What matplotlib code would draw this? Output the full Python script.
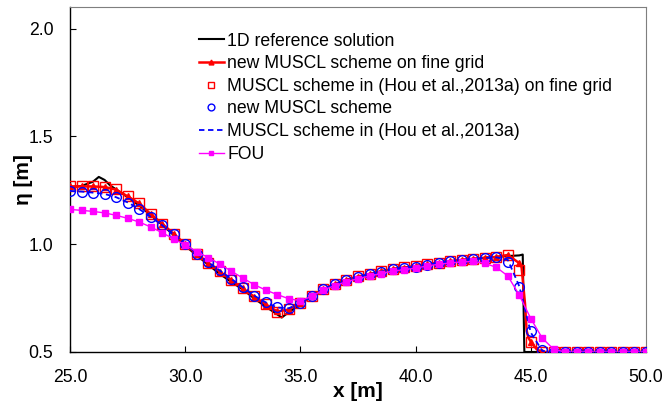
import matplotlib
matplotlib.use("Agg")
import matplotlib.pyplot as plt
import numpy as np

plt.rcParams['font.family'] = ['Liberation Sans', 'DejaVu Sans']

# grid positions (every 0.5 m)
x_grid = [25.0, 25.5, 26.0, 26.5, 27.0, 27.5, 28.0, 28.5, 29.0, 29.5,
          30.0, 30.5, 31.0, 31.5, 32.0, 32.5, 33.0, 33.5, 34.0, 34.5,
          35.0, 35.5, 36.0, 36.5, 37.0, 37.5, 38.0, 38.5, 39.0, 39.5,
          40.0, 40.5, 41.0, 41.5, 42.0, 42.5, 43.0, 43.5, 44.0, 44.5,
          45.0, 45.5, 46.0, 46.5, 47.0, 47.5, 48.0, 48.5, 49.0, 49.5, 50.0]

# 1D reference solution
ref_x = [25.0, 25.5, 26.0, 26.25, 26.5, 26.75, 27.0, 27.5, 28.0, 28.5, 29.0,
         29.5, 30.0, 30.5, 31.0, 31.5, 32.0, 32.5, 33.0, 33.5, 34.0, 34.19,
         34.5, 35.0, 35.5, 36.0, 36.5, 37.0, 37.5, 38.0, 38.5, 39.0, 39.5,
         40.0, 40.5, 41.0, 41.5, 42.0, 42.5, 43.0, 43.5, 44.0, 44.5, 44.65,
         44.72, 50.0]
ref_eta = [1.264, 1.270, 1.290, 1.312, 1.298, 1.272, 1.254, 1.218, 1.180, 1.135,
           1.090, 1.042, 0.993, 0.948, 0.905, 0.862, 0.825, 0.790, 0.748, 0.710,
           0.674, 0.660, 0.685, 0.722, 0.758, 0.790, 0.814, 0.834, 0.849, 0.862,
           0.874, 0.885, 0.892, 0.899, 0.906, 0.914, 0.921, 0.927, 0.932, 0.937,
           0.941, 0.945, 0.948, 0.952, 0.500, 0.500]

# new MUSCL scheme on fine grid (line with extra points near the shock)
newfine_x = [25.0, 25.5, 26.0, 26.5, 27.0, 27.5, 28.0, 28.5, 29.0, 29.5,
             30.0, 30.5, 31.0, 31.5, 32.0, 32.5, 33.0, 33.5, 34.0, 34.5,
             35.0, 35.5, 36.0, 36.5, 37.0, 37.5, 38.0, 38.5, 39.0, 39.5,
             40.0, 40.5, 41.0, 41.5, 42.0, 42.5, 43.0, 43.5, 44.0, 44.5,
             44.6, 44.75, 44.82, 44.9, 45.0, 45.26, 45.5, 46.0, 46.5, 47.0,
             47.5, 48.0, 48.5, 49.0, 49.5, 50.0]
newfine_eta = [1.268, 1.268, 1.268, 1.265, 1.253, 1.222, 1.189, 1.140, 1.095, 1.048,
               1.000, 0.954, 0.913, 0.873, 0.834, 0.795, 0.756, 0.720, 0.688, 0.697,
               0.726, 0.760, 0.791, 0.815, 0.835, 0.850, 0.862, 0.874, 0.885, 0.891,
               0.897, 0.906, 0.914, 0.921, 0.927, 0.932, 0.937, 0.941, 0.950, 0.912,
               0.893, 0.722, 0.598, 0.565, 0.548, 0.512, 0.500, 0.500, 0.500, 0.500,
               0.500, 0.500, 0.500, 0.500, 0.500, 0.500]
newfine_marks = [i for i, v in enumerate(newfine_x) if abs(v * 2 - round(v * 2)) < 1e-9]

# MUSCL scheme in (Hou et al.,2013a) on fine grid
houfine_eta = [1.269, 1.269, 1.269, 1.266, 1.254, 1.223, 1.190, 1.140, 1.095, 1.048,
               1.001, 0.955, 0.914, 0.874, 0.835, 0.797, 0.758, 0.722, 0.685, 0.698,
               0.727, 0.761, 0.793, 0.817, 0.836, 0.851, 0.863, 0.875, 0.886, 0.892,
               0.898, 0.907, 0.915, 0.922, 0.928, 0.933, 0.938, 0.942, 0.950, 0.880,
               0.545, 0.500, 0.500, 0.500, 0.500, 0.500, 0.500, 0.500, 0.500, 0.500, 0.500]

# new MUSCL scheme
new_eta = [1.246, 1.243, 1.238, 1.232, 1.217, 1.193, 1.162, 1.126, 1.087, 1.045,
           1.002, 0.956, 0.916, 0.878, 0.839, 0.802, 0.761, 0.730, 0.707, 0.702,
           0.727, 0.761, 0.792, 0.814, 0.834, 0.849, 0.861, 0.873, 0.884, 0.890,
           0.896, 0.905, 0.913, 0.920, 0.926, 0.931, 0.936, 0.940, 0.916, 0.800,
           0.598, 0.507, 0.500, 0.500, 0.500, 0.500, 0.500, 0.500, 0.500, 0.500, 0.500]

# MUSCL scheme in (Hou et al.,2013a)
hou_eta = [1.247, 1.244, 1.239, 1.233, 1.218, 1.194, 1.163, 1.127, 1.088, 1.045,
           1.002, 0.956, 0.916, 0.878, 0.839, 0.801, 0.761, 0.730, 0.706, 0.703,
           0.727, 0.761, 0.792, 0.814, 0.834, 0.849, 0.861, 0.873, 0.884, 0.890,
           0.896, 0.905, 0.913, 0.920, 0.926, 0.931, 0.936, 0.939, 0.928, 0.805,
           0.590, 0.505, 0.500, 0.500, 0.500, 0.500, 0.500, 0.500, 0.500, 0.500, 0.500]

# FOU
fou_eta = [1.161, 1.157, 1.152, 1.145, 1.134, 1.120, 1.103, 1.080, 1.053, 1.025,
           0.997, 0.965, 0.938, 0.908, 0.875, 0.843, 0.812, 0.787, 0.766, 0.747,
           0.738, 0.758, 0.788, 0.808, 0.826, 0.840, 0.852, 0.864, 0.875, 0.882,
           0.889, 0.899, 0.907, 0.913, 0.918, 0.920, 0.911, 0.893, 0.853, 0.764,
           0.655, 0.564, 0.512, 0.500, 0.500, 0.500, 0.500, 0.500, 0.500, 0.500, 0.500]

labels = ["1D reference solution",
          "new MUSCL scheme on fine grid",
          "MUSCL scheme in (Hou et al.,2013a) on fine grid",
          "new MUSCL scheme",
          "MUSCL scheme in (Hou et al.,2013a)",
          "FOU"]
x_ticks = [25.0, 30.0, 35.0, 40.0, 45.0, 50.0]
y_ticks = [0.5, 1.0, 1.5, 2.0]

FS = 12.7

fig = plt.figure(figsize=(6.64, 4.03), dpi=100)
ax = fig.add_axes([70 / 664, 1 - 352 / 403, 576 / 664, 345 / 403])

ax.plot(ref_x, ref_eta, color='black', lw=1.5, label=labels[0], zorder=2)
ax.plot(newfine_x, newfine_eta, color='#ff0000', lw=1.8, marker='^', ms=5,
        markevery=newfine_marks, label=labels[1], zorder=3)
ax.plot(x_grid, houfine_eta, ls='none', marker='s', ms=7, mfc='none',
        mec='#ff0000', mew=1.0, label=labels[2], zorder=4)
ax.plot(x_grid, new_eta, ls='none', marker='o', ms=7, mfc='none',
        mec='#0000ff', mew=1.0, label=labels[3], zorder=5)
ax.plot(x_grid, hou_eta, color='#0000ff', ls=(0, (3, 2)), lw=1.3,
        label=labels[4], zorder=6)
ax.plot(x_grid, fou_eta, color='#ff00ff', lw=1.0, marker='s', ms=5,
        label=labels[5], zorder=7)

ax.set_xlim(25, 50)
ax.set_ylim(0.5, 2.1)
ax.set_xticks(x_ticks)
ax.set_yticks(y_ticks)
ax.set_xticklabels([f"{v:.1f}" for v in x_ticks])
ax.set_yticklabels([f"{v:.1f}" for v in y_ticks])
ax.tick_params(axis='both', direction='in', length=4, width=0.8, labelsize=FS, colors='black')
ax.tick_params(axis='x', pad=12.5)
ax.tick_params(axis='y', pad=12)

for s in ['left', 'bottom']:
    ax.spines[s].set_color('black')
    ax.spines[s].set_linewidth(1.0)
for s in ['top', 'right']:
    ax.spines[s].set_color('#7f7f7f')
    ax.spines[s].set_linewidth(0.8)

ax.set_xlabel("x [m]", fontsize=15, fontweight='bold', labelpad=-3)
ax.set_ylabel("η [m]", fontsize=15, fontweight='bold', labelpad=-3.5)

leg = ax.legend(loc='upper left', bbox_to_anchor=(199 / 664, 1 - 32.5 / 403),
                bbox_transform=fig.transFigure, frameon=False, fontsize=FS,
                handlelength=1.4, handletextpad=0.2, borderpad=0, borderaxespad=0,
                labelspacing=0.32, numpoints=1, markerscale=0.7)

fig.savefig("out.png", dpi=100)
